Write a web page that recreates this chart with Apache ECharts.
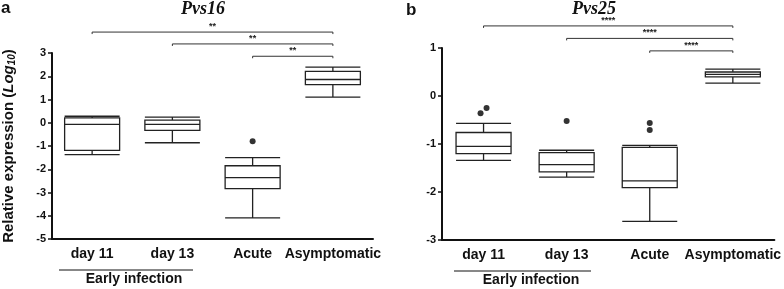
<!DOCTYPE html>
<html>
<head>
<meta charset="utf-8">
<script src="https://cdn.jsdelivr.net/npm/echarts@6/dist/echarts.min.js"></script>
<style>
  html, body { margin: 0; padding: 0; background: #fff; }
  #chart { width: 784px; height: 289px; }
</style>
</head>
<body>
<div id="chart"></div>
<script>
// categories shared by both panels
const categories = ['day 11', 'day 13', 'Acute', 'Asymptomatic'];

// Pvs16: [min, Q1, median, Q3, max]
const pvs16Box = [
    [-1.37, -1.19, -0.07, 0.21, 0.28],
    [-0.86, -0.33, -0.07, 0.11, 0.24],
    [-4.09, -2.83, -2.36, -1.85, -1.50],
    [1.10, 1.64, 1.86, 2.21, 2.39]
];
const pvs16Outliers = [[2, -0.80]];
// [from category, to category, height, label]
const pvs16Brackets = [[0, 3, 3.9, '**'], [1, 3, 3.39, '**'], [2, 3, 2.86, '**']];
const pvs16Ticks = { min: -5, max: 3, interval: 1 };

// Pvs25
const pvs25Box = [
    [-1.34, -1.20, -1.05, -0.76, -0.57],
    [-1.69, -1.58, -1.43, -1.18, -1.13],
    [-2.61, -1.91, -1.77, -1.07, -1.03],
    [0.27, 0.40, 0.45, 0.50, 0.56]
];
const pvs25Outliers = [[0, -0.36], [0, -0.25], [1, -0.52], [2, -0.56], [2, -0.71]];
const pvs25Brackets = [[0, 3, 1.46, '****'], [1, 3, 1.20, '****'], [2, 3, 0.94, '****']];
const pvs25Ticks = { min: -3, max: 1, interval: 1 };

const FONT = 'Liberation Sans';

const chart = echarts.init(document.getElementById('chart'));

function xAxisFor(idx) {
    return {
        type: 'category',
        gridIndex: idx,
        data: categories,
        boundaryGap: true,
        axisLine: { onZero: false, lineStyle: { color: '#111', width: 2 } },
        axisTick: { alignWithLabel: true, length: 4, lineStyle: { color: '#111', width: 1.5 } },
        axisLabel: { color: '#111', fontFamily: FONT, fontWeight: 'bold', fontSize: 14, margin: 8, interval: 0 },
        splitLine: { show: false }
    };
}

function yAxisFor(idx, ticks) {
    return {
        type: 'value',
        gridIndex: idx,
        min: ticks.min,
        max: ticks.max,
        interval: ticks.interval,
        axisLine: { show: true, onZero: false, lineStyle: { color: '#111', width: 2 } },
        axisTick: { show: true, length: 4, lineStyle: { color: '#111', width: 1.5 } },
        axisLabel: { color: '#111', fontFamily: FONT, fontWeight: 'bold', fontSize: 11, margin: 6 },
        splitLine: { show: false }
    };
}

function boxSeries(idx, data) {
    return {
        type: 'boxplot',
        xAxisIndex: idx,
        yAxisIndex: idx,
        data: data,
        boxWidth: [55, 55],
        itemStyle: { color: '#fff', borderColor: '#222', borderWidth: 1.3 },
        emphasis: { disabled: true },
        z: 3
    };
}

function outlierSeries(idx, pts) {
    // small horizontal jitter when two outliers in one group nearly touch
    const data = pts.map((p, i) => {
        const prev = pts[i - 1];
        const next = pts[i + 1];
        let off = 0;
        if (prev && prev[0] === p[0] && Math.abs(prev[1] - p[1]) < 0.13) off = 3;
        else if (next && next[0] === p[0] && Math.abs(next[1] - p[1]) < 0.13) off = -3;
        return { value: p, symbolOffset: [off, 0] };
    });
    return {
        type: 'scatter',
        xAxisIndex: idx,
        yAxisIndex: idx,
        data: data,
        symbol: 'circle',
        symbolSize: 6,
        itemStyle: { color: '#000' },
        z: 4
    };
}

function bracketSeries(idx, brackets) {
    return {
        type: 'custom',
        xAxisIndex: idx,
        yAxisIndex: idx,
        clip: false,
        data: brackets.map(b => [b[0], b[1], b[2]]),
        encode: { x: [0, 1], y: 2 },
        renderItem: function (params, api) {
            const a = api.coord([api.value(0), api.value(2)]);
            const b = api.coord([api.value(1), api.value(2)]);
            return {
                type: 'group',
                children: [
                    {
                        type: 'polyline',
                        shape: { points: [[a[0], a[1] + 2], [a[0], a[1]], [b[0], b[1]], [b[0], b[1] + 2]] },
                        style: { stroke: '#333', fill: null, lineWidth: 1 }
                    },
                    {
                        type: 'text',
                        style: {
                            text: brackets[params.dataIndex][3],
                            x: (a[0] + b[0]) / 2,
                            y: a[1] - 1,
                            align: 'center',
                            verticalAlign: 'bottom',
                            font: 'bold 9px ' + FONT,
                            fill: '#222'
                        }
                    }
                ]
            };
        }
    };
}

const yA = yAxisFor(0, pvs16Ticks);
yA.name = '{n|Relative expression (}{i|Log}{s|10}{n|)}';
yA.nameLocation = 'middle';
yA.nameRotate = 90;
yA.nameGap = 35;
yA.nameTextStyle = {
    rich: {
        n: { fontFamily: FONT, fontWeight: 'bold', fontSize: 15, color: '#111' },
        i: { fontFamily: FONT, fontWeight: 'bold', fontStyle: 'italic', fontSize: 15, color: '#111' },
        s: { fontFamily: FONT, fontWeight: 'bold', fontStyle: 'italic', fontSize: 10, color: '#111', verticalAlign: 'bottom', padding: [7, 0, 0, 0] }
    }
};

const textStyle = (size) => ({ font: 'bold ' + size + 'px ' + FONT, fill: '#111' });

const option = {
    animation: false,
    backgroundColor: '#fff',
    grid: [
        { left: 47, top: 53, width: 326, height: 186 },
        { left: 442, top: 48, width: 333, height: 192 }
    ],
    xAxis: [xAxisFor(0), xAxisFor(1)],
    yAxis: [yA, yAxisFor(1, pvs25Ticks)],
    series: [
        boxSeries(0, pvs16Box),
        outlierSeries(0, pvs16Outliers),
        bracketSeries(0, pvs16Brackets),
        boxSeries(1, pvs25Box),
        outlierSeries(1, pvs25Outliers),
        bracketSeries(1, pvs25Brackets)
    ],
    graphic: [
        { type: 'text', left: 1, top: 0, silent: true, style: Object.assign(textStyle(17), { text: 'a' }) },
        { type: 'text', left: 406, top: 2, silent: true, style: Object.assign(textStyle(17), { text: 'b' }) },
        { type: 'text', x: 203, y: 0, silent: true, style: { text: 'Pvs16', align: 'center', font: 'italic bold 18px "Liberation Serif"', fill: '#111' } },
        { type: 'text', x: 594, y: 0, silent: true, style: { text: 'Pvs25', align: 'center', font: 'italic bold 18px "Liberation Serif"', fill: '#111' } },
        { type: 'line', silent: true, shape: { x1: 59, y1: 270, x2: 193, y2: 270 }, style: { stroke: '#111', lineWidth: 1 } },
        { type: 'line', silent: true, shape: { x1: 454, y1: 271, x2: 591, y2: 271 }, style: { stroke: '#111', lineWidth: 1 } },
        { type: 'text', x: 134, y: 272, silent: true, style: Object.assign(textStyle(14), { text: 'Early infection', align: 'center' }) },
        { type: 'text', x: 531, y: 273, silent: true, style: Object.assign(textStyle(14), { text: 'Early infection', align: 'center' }) }
    ]
};

chart.setOption(option);
</script>
</body>
</html>
